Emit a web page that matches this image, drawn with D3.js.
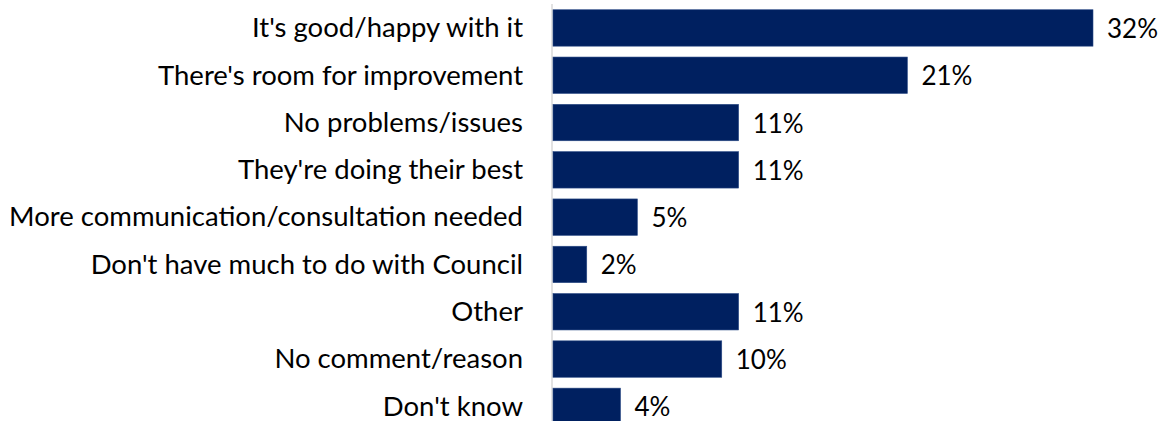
<!DOCTYPE html>
<html>
<head>
<meta charset="utf-8">
<script src="https://cdn.jsdelivr.net/npm/d3@7"></script>
<style>
  html, body { margin: 0; padding: 0; background: #fff; }
  svg { display: block; }
</style>
</head>
<body>
<svg id="chart" width="1170" height="421"></svg>
<script>
// Responses and their share (%)
const categories = [
  "It's good/happy with it",
  "There's room for improvement",
  "No problems/issues",
  "They're doing their best",
  "More communication/consultation needed",
  "Don't have much to do with Council",
  "Other",
  "No comment/reason",
  "Don't know"
];
const values = [32, 21, 11, 11, 5, 2, 11, 10, 4];
const valueLabels = ["32%", "21%", "11%", "11%", "5%", "2%", "11%", "10%", "4%"];

const svg = d3.select("#chart");
const x0 = 553;
const font = "Lato, 'Open Sans', sans-serif";

const x = d3.scaleLinear().domain([0, 32]).range([x0, 1093]);
const y = d3.scaleBand()
  .domain(categories)
  .range([4.3, 4.3 + 47.3 * categories.length])
  .paddingInner(0.23)
  .paddingOuter(0.115);

// vertical baseline
svg.append("line")
  .attr("x1", x0 - 1).attr("x2", x0 - 1)
  .attr("y1", 4).attr("y2", 421)
  .attr("stroke", "#d9d9d9").attr("stroke-width", 1.5);

const rows = svg.append("g").selectAll("g")
  .data(categories.map((c, i) => ({ c, v: values[i], l: valueLabels[i] })))
  .join("g");

rows.append("rect")
  .attr("x", x(0))
  .attr("y", d => y(d.c))
  .attr("width", d => x(d.v) - x(0))
  .attr("height", y.bandwidth())
  .attr("fill", "#002060")
  .attr("stroke", "#2a4a85")
  .attr("stroke-width", 0.6);

rows.append("text")
  .attr("x", x0 - 30)
  .attr("y", d => y(d.c) + y.bandwidth() / 2 + 9.3)
  .attr("text-anchor", "end")
  .attr("font-family", font)
  .attr("font-size", 27.5)
  .attr("fill", "#000")
  .text(d => d.c);

rows.append("text")
  .attr("x", d => x(d.v) + 14)
  .attr("y", d => y(d.c) + y.bandwidth() / 2 + 10)
  .attr("font-family", font)
  .attr("font-size", 26)
  .attr("fill", "#000")
  .text(d => d.l);
</script>
</body>
</html>
